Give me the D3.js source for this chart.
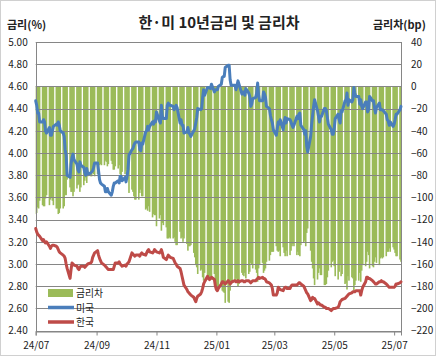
<!DOCTYPE html>
<html><head><meta charset="utf-8">
<script src="https://cdn.jsdelivr.net/npm/d3@7"></script>
<style>body{margin:0;background:#fff} svg{display:block}</style>
</head><body><svg id="c" width="436" height="356"></svg>
<script>
// ---------- data ----------
const startDate = "2024-07-01";
const endDate = "2025-07-08";
// US 10Y (%), business days, one row per week (Mon-Fri)
const us = [
4.47,4.43,4.36,4.36,4.28, 4.28,4.30,4.28,4.20,4.18, 4.23,4.16,4.16,4.20,4.24, 4.26,4.25,4.28,4.25,4.20,
4.18,4.15,4.03,3.98,3.80, 3.78,3.90,3.96,3.99,3.94, 3.90,3.85,3.83,3.92,3.89, 3.87,3.82,3.80,3.86,3.81,
3.82,3.83,3.84,3.87,3.91, 3.91,3.84,3.76,3.73,3.72, 3.70,3.65,3.65,3.68,3.65, 3.62,3.65,3.70,3.73,3.73,
3.75,3.73,3.79,3.79,3.75, 3.78,3.74,3.79,3.85,3.98, 4.03,4.04,4.07,4.09,4.10, 4.10,4.03,4.02,4.09,4.08,
4.19,4.20,4.24,4.21,4.24, 4.28,4.26,4.29,4.28,4.37, 4.29,4.27,4.43,4.33,4.31, 4.31,4.43,4.45,4.43,4.43,
4.42,4.39,4.41,4.43,4.41, 4.27,4.30,4.25,4.25,4.18, 4.19,4.23,4.18,4.17,4.15, 4.20,4.22,4.27,4.32,4.40,
4.39,4.40,4.50,4.57,4.52, 4.59,4.59,4.59,4.58,4.62, 4.55,4.57,4.57,4.57,4.60, 4.62,4.68,4.69,4.69,4.77,
4.79,4.79,4.66,4.61,4.61, 4.61,4.57,4.61,4.65,4.62, 4.53,4.55,4.55,4.52,4.58, 4.54,4.51,4.42,4.44,4.49,
4.50,4.54,4.63,4.52,4.47, 4.47,4.55,4.53,4.50,4.42, 4.40,4.34,4.30,4.27,4.21, 4.16,4.22,4.28,4.26,4.30,
4.21,4.28,4.32,4.27,4.31, 4.30,4.28,4.25,4.23,4.25, 4.33,4.31,4.35,4.36,4.25, 4.21,4.17,4.20,4.06,4.01,
4.15,4.26,4.34,4.42,4.48, 4.38,4.33,4.28,4.33,4.33, 4.40,4.40,4.38,4.32,4.26, 4.21,4.17,4.17,4.22,4.31,
4.35,4.30,4.27,4.38,4.37, 4.47,4.47,4.54,4.43,4.48, 4.46,4.48,4.59,4.54,4.51, 4.51,4.44,4.48,4.42,4.40,
4.46,4.46,4.37,4.39,4.51, 4.47,4.47,4.41,4.36,4.41, 4.45,4.39,4.39,4.39,4.38, 4.35,4.30,4.29,4.25,4.28,
4.24,4.26,4.30,4.35,4.35, 4.39,4.42
];
// Korea 10Y (%)
const kr = [
3.32,3.29,3.27,3.26,3.25, 3.21,3.22,3.20,3.19,3.20, 3.16,3.14,3.16,3.17,3.17, 3.16,3.15,3.13,3.11,3.10,
3.08,3.07,3.05,3.00,2.96, 2.87,2.95,3.01,3.00,2.99, 2.98,2.96,2.95,2.97,2.98, 2.98,2.97,2.98,2.99,3.00,
3.01,3.02,3.06,3.08,3.10, 3.12,3.08,3.05,3.03,3.01, 2.99,2.98,2.97,2.96,2.95, 2.95,2.95,2.95,2.98,3.01,
3.01,3.02,3.00,2.99,2.98, 2.99,2.98,3.00,3.01,3.02, 3.10,3.09,3.08,3.07,3.08, 3.08,3.07,3.09,3.10,3.09,
3.08,3.10,3.12,3.13,3.11, 3.10,3.11,3.13,3.12,3.11, 3.10,3.11,3.13,3.10,3.06, 3.04,3.06,3.08,3.07,3.06,
3.05,3.03,3.01,3.00,2.98, 2.96,2.93,2.89,2.85,2.81, 2.77,2.75,2.74,2.73,2.72, 2.70,2.68,2.66,2.69,2.71,
2.73,2.75,2.78,2.82,2.84, 2.89,2.87,2.86,2.87,2.88, 2.86,2.80,2.77,2.76,2.78, 2.82,2.84,2.84,2.83,2.82,
2.85,2.84,2.82,2.83,2.84, 2.85,2.84,2.84,2.85,2.84, 2.85,2.85,2.84,2.84,2.85, 2.85,2.84,2.83,2.84,2.85,
2.85,2.86,2.87,2.88,2.87, 2.88,2.87,2.87,2.86,2.84, 2.83,2.82,2.81,2.78,2.72, 2.72,2.74,2.79,2.78,2.77,
2.76,2.78,2.79,2.79,2.78, 2.78,2.80,2.81,2.81,2.81, 2.81,2.82,2.83,2.83,2.82, 2.80,2.78,2.76,2.74,2.73,
2.67,2.68,2.70,2.69,2.69, 2.64,2.65,2.64,2.63,2.63, 2.61,2.61,2.60,2.60,2.60, 2.58,2.59,2.60,2.60,2.60,
2.61,2.63,2.66,2.67,2.68, 2.69,2.70,2.71,2.72,2.73, 2.74,2.75,2.75,2.75,2.76, 2.76,2.76,2.72,2.76,2.79,
2.84,2.88,2.88,2.87,2.87, 2.85,2.84,2.83,2.82,2.82, 2.84,2.84,2.85,2.84,2.84, 2.82,2.81,2.80,2.79,2.79,
2.79,2.79,2.80,2.82,2.82, 2.83,2.84
];
const leftTicks = [5.00,4.80,4.60,4.40,4.20,4.00,3.80,3.60,3.40,3.20,3.00,2.80,2.60,2.40];
const rightTicks = [40,20,0,-20,-40,-60,-80,-100,-120,-140,-160,-180,-200,-220];
const xTickDates = ["2024-07-01","2024-09-01","2024-11-01","2025-01-01","2025-03-01","2025-05-01","2025-07-01"];
const xTickLabels = ["24/07","24/09","24/11","25/01","25/03","25/05","25/07"];
const seriesNames = ["금리차","미국","한국"];
const title = "한·미 10년금리 및 금리차";
const leftTitle = "금리(%)";
const rightTitle = "금리차(bp)";

// ---------- drawing ----------
const C = {green:"#9BBB59", blue:"#4A7EBB", red:"#BE4B48", grid:"#868686"};
const FONT = "'Noto Sans CJK KR','Noto Sans',sans-serif";
const svg = d3.select("#c");
const parse = d3.utcParse("%Y-%m-%d");
const days = d3.utcDays(parse(startDate), d3.utcDay.offset(parse(endDate),1))
  .filter(d => d.getUTCDay() !== 0 && d.getUTCDay() !== 6);
const n = Math.min(days.length, us.length, kr.length);
const data = d3.range(n).map(i => ({d: days[i], us: us[i], kr: kr[i], sp: Math.round((kr[i]-us[i])*100)}));

const L = 35.7, R = 401, T = 42, B = 330.6;
const x = d3.scaleUtc().domain([parse(startDate), parse(endDate)]).range([L, R]);
const y = d3.scaleLinear().domain([2.4, 5.0]).range([B, T]);
const yR = d3.scaleLinear().domain([-220, 40]).range([B, T]);

svg.append("rect").attr("x",0.5).attr("y",0.5).attr("width",435).attr("height",355)
  .attr("fill","#fff").attr("stroke","#d0d0d0");

svg.append("defs").append("clipPath").attr("id","pc").append("rect")
  .attr("x",L).attr("y",T).attr("width",R-L).attr("height",B-T);

// bars
const bw = 1.6;
svg.append("g").attr("clip-path","url(#pc)").selectAll("rect").data(data).join("rect")
  .attr("x", d => x(d.d) - bw/2).attr("width", bw)
  .attr("y", d => Math.min(yR(0), yR(d.sp)))
  .attr("height", d => Math.abs(yR(d.sp) - yR(0)))
  .attr("fill", C.green);

// gridlines
svg.append("g").selectAll("line").data(leftTicks).join("line")
  .attr("x1", L).attr("x2", R).attr("y1", d => Math.round(y(d))+0.5).attr("y2", d => Math.round(y(d))+0.5)
  .attr("stroke", C.grid).attr("stroke-width", 1);
// plot frame
svg.append("rect").attr("x", Math.round(L)+0.5).attr("y", Math.round(T)+0.5)
  .attr("width", Math.round(R)-Math.round(L)).attr("height", Math.round(B)-Math.round(T))
  .attr("fill","none").attr("stroke", C.grid);

// lines
const lineUS = d3.line().x(d => x(d.d)).y(d => y(d.us));
const lineKR = d3.line().x(d => x(d.d)).y(d => y(d.kr));
svg.append("path").datum(data).attr("d", lineKR).attr("fill","none")
  .attr("stroke", C.red).attr("stroke-width", 3).attr("stroke-linejoin","round").attr("stroke-linecap","round");
svg.append("path").datum(data).attr("d", lineUS).attr("fill","none")
  .attr("stroke", C.blue).attr("stroke-width", 3).attr("stroke-linejoin","round").attr("stroke-linecap","round");

// axes
const axL = d3.axisLeft(y).tickValues(leftTicks).tickFormat(d3.format(".2f")).tickSize(0).tickPadding(8);
const gL = svg.append("g").attr("transform",`translate(${L},0)`).call(axL);
gL.select(".domain").remove();
gL.selectAll("text").attr("font-family", FONT).attr("font-size", 10).attr("fill","#222");

const axR = d3.axisRight(yR).tickValues(rightTicks).tickFormat(d3.format("d")).tickSize(0).tickPadding(10);
const gR = svg.append("g").attr("transform",`translate(${R},0)`).call(axR);
gR.select(".domain").remove();
gR.selectAll("text").attr("font-family", FONT).attr("font-size", 10).attr("fill","#222");

const axB = d3.axisBottom(x).tickValues(xTickDates.map(parse))
  .tickFormat((d,i) => xTickLabels[i]).tickSize(4).tickPadding(6);
const gB = svg.append("g").attr("transform",`translate(0,${Math.round(B)+0.5})`).call(axB);
gB.select(".domain").attr("stroke", C.grid);
gB.selectAll("line").attr("stroke", C.grid);
gB.selectAll("text").attr("font-family", FONT).attr("font-size", 10).attr("fill","#222");

// titles
svg.append("text").attr("x",219).attr("y",28).attr("text-anchor","middle")
  .attr("font-family",FONT).attr("font-size",15).attr("font-weight","bold").attr("fill","#222").text(title);
svg.append("text").attr("x",7).attr("y",29)
  .attr("font-family",FONT).attr("font-size",11).attr("font-weight","bold").attr("fill","#222").text(leftTitle);
svg.append("text").attr("x",373).attr("y",29)
  .attr("font-family",FONT).attr("font-size",11).attr("font-weight","bold").attr("fill","#222").text(rightTitle);

// legend
const lg = svg.append("g");
const ly = [293, 307.5, 322];
lg.append("rect").attr("x",48).attr("y",ly[0]-4).attr("width",25).attr("height",8).attr("fill",C.green);
lg.append("line").attr("x1",48).attr("x2",74).attr("y1",ly[1]).attr("y2",ly[1]).attr("stroke",C.blue).attr("stroke-width",3.5);
lg.append("line").attr("x1",48).attr("x2",74).attr("y1",ly[2]).attr("y2",ly[2]).attr("stroke",C.red).attr("stroke-width",3.5);
lg.selectAll("text").data(seriesNames).join("text")
  .attr("x",76).attr("y",(d,i)=>ly[i]+4)
  .attr("font-family",FONT).attr("font-size",9.8).attr("fill","#222").text(d=>d);
</script></body></html>
